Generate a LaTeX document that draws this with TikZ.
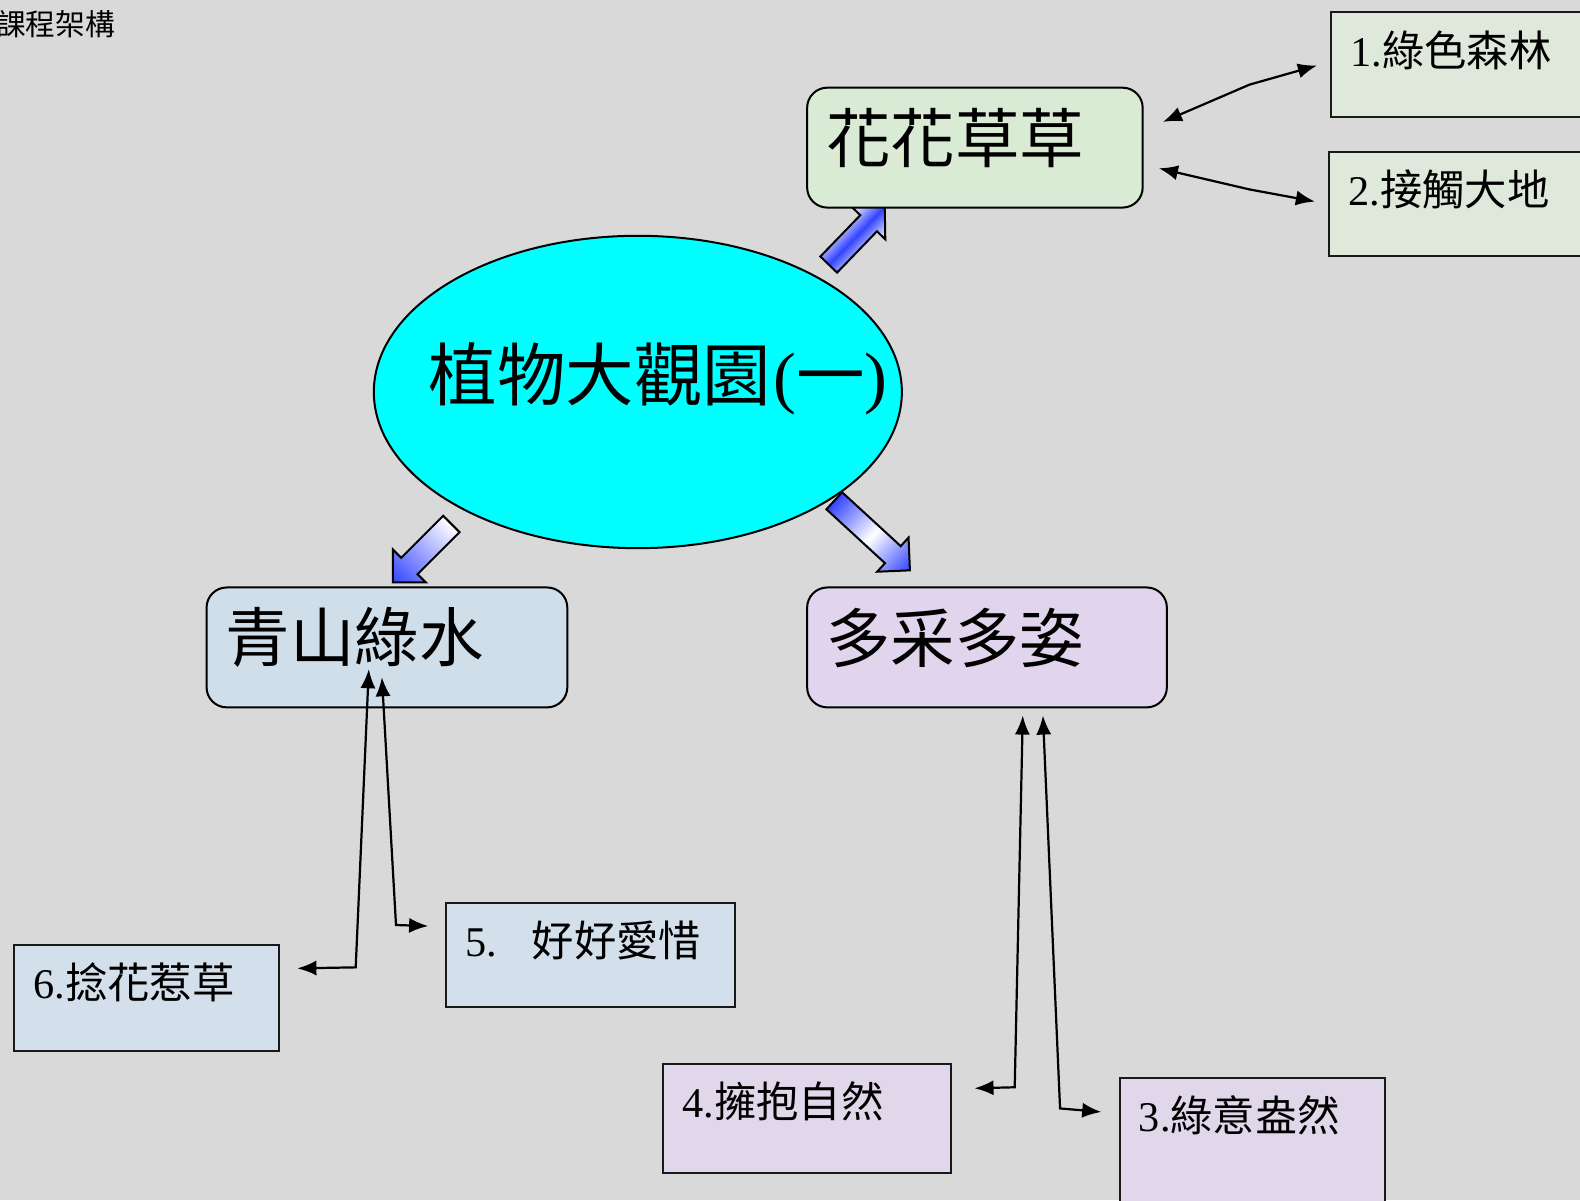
\documentclass[tikz,border=0pt]{standalone}
\usepackage{fontspec}
\setmainfont{Liberation Serif}
\newfontfamily\cjk{Noto Sans CJK TC}
\usetikzlibrary{arrows.meta,calc,shapes.geometric}
\definecolor{bg}{HTML}{D9D9D9}
\definecolor{huafill}{HTML}{D9EAD5}
\definecolor{huasmall}{HTML}{DEE9DC}
\definecolor{qingfill}{HTML}{D0DEEA}
\definecolor{qingsmall}{HTML}{D3DFEA}
\definecolor{duofill}{HTML}{E0D5EC}
\definecolor{duosmall}{HTML}{E0D8EA}
\definecolor{arrowblue}{RGB}{51,68,255}
\definecolor{ellcyan}{HTML}{00FFFF}
\newcommand\blockarrow[5]{%
  \begin{scope}[transform canvas={shift={(#1,#2)},rotate=#3}]
    \shade[blk,#5] (0,0) -- (-23,23) -- (-23,11.5) -- (-#4,11.5) -- (-#4,-11.5) -- (-23,-11.5) -- (-23,-23) -- cycle;
  \end{scope}}
\tikzset{
  rbox/.style={draw=black, line width=2pt, rounded corners=20pt, anchor=north west, inner sep=0pt},
  sbox/.style={draw=black!90, line width=2pt, anchor=north west, inner sep=0pt},
  btxt/.style={anchor=west, inner sep=0pt, font=\fontsize{64}{70}\selectfont\cjk},
  stxt/.style={anchor=west, inner sep=0pt, font=\fontsize{42}{48}\selectfont},
  dbl/.style={{Latex[length=19pt,width=15pt]}-{Latex[length=19pt,width=15pt]}, line width=2.2pt},
  blk/.style={draw=black, line width=2pt, line join=miter},
}
\begin{document}
\begin{tikzpicture}[x=1pt,y=-1pt]
\useasboundingbox (0,0) rectangle (1568,1191);
\fill[bg] (0,0) rectangle (1568,1191);

% title
\node[anchor=west, inner sep=0pt, font=\fontsize{29.5}{32}\selectfont\cjk] (title) at (-4,24) {課程架構};

% central ellipse
\node[ellipse, draw=black, line width=2pt, fill=ellcyan, minimum width=524pt, minimum height=310pt, inner sep=0pt] (main) at (633,389) {};
\node[inner sep=0pt, font=\fontsize{68}{74}\selectfont] (maint) at (653,376) {{\cjk 植物大觀園}\kern2pt({\cjk 一})};

% block arrows
\blockarrow{878}{205}{46}{80}{top color=white, bottom color=white, middle color=arrowblue}
\blockarrow{390}{578}{225}{82}{left color=white, right color=arrowblue}
\blockarrow{903}{566}{-42.6}{102}{left color=arrowblue, right color=arrowblue, middle color=white}

% main boxes
\node[rbox, fill=huafill, minimum width=333pt, minimum height=119pt] (hua) at (800,86) {};
\node[btxt] (huat) at (820,137) {花花草草};
\node[rbox, fill=qingfill, minimum width=358pt, minimum height=119pt] (qing) at (204,582) {};
\node[btxt] (qingt) at (224,633) {青山綠水};
\node[rbox, fill=duofill, minimum width=357pt, minimum height=119pt] (duo) at (800,582) {};
\node[btxt] (duot) at (820,633) {多采多姿};

% small boxes
\node[sbox, fill=huasmall, minimum width=300pt, minimum height=104pt] (b1) at (1320,11) {};
\node[stxt] (b1t) at (1340,50) {1.{\cjk 綠色森林}};
\node[sbox, fill=huasmall, minimum width=300pt, minimum height=103pt] (b2) at (1318,150) {};
\node[stxt] (b2t) at (1338,188) {2.{\cjk 接觸大地}};
\node[sbox, fill=qingsmall, minimum width=263pt, minimum height=105pt] (b6) at (13,937) {};
\node[stxt] (b6t) at (33,975) {6.{\cjk 捻花惹草}};
\node[sbox, fill=qingsmall, minimum width=286pt, minimum height=103pt] (b5) at (442,895) {};
\node[stxt] (b5t) at (462,933) {5.\hspace{34pt}{\cjk 好好愛惜}};
\node[sbox, fill=duosmall, minimum width=286pt, minimum height=108pt] (b4) at (657,1055) {};
\node[stxt] (b4t) at (677,1093) {4.{\cjk 擁抱自然}};
\node[sbox, fill=duosmall, minimum width=263pt, minimum height=126pt] (b3) at (1110,1069) {};
\node[stxt] (b3t) at (1130,1107) {3.{\cjk 綠意盎然}};

% connectors
\draw[dbl] ($(hua.east)+(19,-25.5)$) -- (1240,84) -- ($(b1.west)+(-13,1)$);
\draw[dbl] ($(hua.east)+(15,20.5)$) -- (1240,188) -- ($(b2.west)+(-13,-2.5)$);
\draw[dbl] ($(qing.south)+(-18,-39)$) -- (353,960) -- ($(b6.east)+(17,-29.5)$);
\draw[dbl] ($(qing.south)+(-5,-31)$) -- (393,918) -- ($(b5.west)+(-17,-28.5)$);
\draw[dbl] ($(duo.south)+(35.5,7)$) -- (1007,1079) -- ($(b4.east)+(22,-30)$);
\draw[dbl] ($(duo.south)+(55.5,7)$) -- (1052,1100) -- ($(b3.west)+(-17,-29.5)$);
\end{tikzpicture}
\end{document}
